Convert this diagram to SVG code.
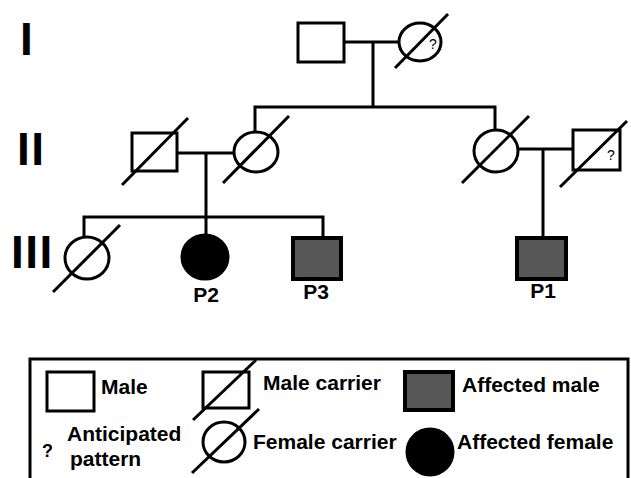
<svg xmlns="http://www.w3.org/2000/svg" width="631" height="478" viewBox="0 0 631 478">
<style>
.ln{stroke:#000;stroke-width:3;fill:none;stroke-linecap:square}
.sym{stroke:#000;stroke-width:3;fill:#fff}
.aff{stroke:#000;stroke-width:4;fill:#575757}
.fem{stroke:#000;stroke-width:3;fill:#000}
.sl{stroke:#000;stroke-width:3;fill:none}
.t{font-family:"Liberation Sans",Arial,sans-serif;font-weight:bold;font-size:21px;fill:#000}
.gen{font-family:"Liberation Sans",Arial,sans-serif;font-weight:bold;font-size:46px;fill:#000;letter-spacing:1.5px}
.q{font-family:"Liberation Sans",Arial,sans-serif;font-size:14px;fill:#000}
</style>
<rect width="631" height="478" fill="#fff"/>
<g id="generations">
<text class="gen" x="20" y="55">I</text>
<text class="gen" x="17" y="165">II</text>
<text class="gen" x="11" y="268">III</text>
</g>
<g id="connectors">
<path class="ln" d="M344 42H399M373 42V107M255 107H495M255 107V131M495 107V130"/>
<path class="ln" d="M177 153H234M206 153V235M84 217H323M84 217V237M323 217V238"/>
<path class="ln" d="M518 149H573M543 149V238"/>
</g>
<g id="I-1"><rect class="sym" x="298" y="23" width="46" height="39"/></g>
<g id="I-2"><ellipse class="sym" cx="420" cy="42" rx="21" ry="19"/><line class="sl" x1="395" y1="68" x2="448" y2="14"/><text class="q" x="433" y="49" text-anchor="middle">?</text></g>
<g id="II-1"><rect class="sym" x="132" y="133" width="45" height="38"/><line class="sl" x1="122" y1="185" x2="188" y2="118"/></g>
<g id="II-2"><ellipse class="sym" cx="256" cy="152" rx="22" ry="20"/><line class="sl" x1="223" y1="183" x2="289" y2="116"/></g>
<g id="II-3"><ellipse class="sym" cx="496" cy="151" rx="22" ry="21"/><line class="sl" x1="462" y1="183" x2="529" y2="116"/></g>
<g id="II-4"><rect class="sym" x="573" y="130" width="47" height="40"/><line class="sl" x1="560" y1="187" x2="627" y2="121"/><text class="q" x="611" y="160" text-anchor="middle">?</text></g>
<g id="III-1"><ellipse class="sym" cx="87" cy="258" rx="22" ry="21"/><line class="sl" x1="53" y1="292" x2="120" y2="225"/></g>
<g id="P2"><ellipse class="fem" cx="205" cy="257" rx="23" ry="22"/><text class="t" x="206" y="302" text-anchor="middle">P2</text></g>
<g id="P3"><rect class="aff" x="293" y="238" width="48" height="41"/><text class="t" x="316" y="299" text-anchor="middle">P3</text></g>
<g id="P1"><rect class="aff" x="517" y="238" width="49" height="41"/><text class="t" x="543" y="298" text-anchor="middle">P1</text></g>
<g id="legend">
<rect x="30" y="359" width="598" height="140" fill="none" stroke="#000" stroke-width="3"/>
<rect class="sym" x="47" y="372" width="47" height="39"/>
<text class="t" x="101" y="394">Male</text>
<rect class="sym" x="203" y="372" width="46" height="36"/>
<line class="sl" x1="193" y1="420" x2="256" y2="360"/>
<text class="t" x="263" y="390">Male carrier</text>
<rect class="aff" x="405" y="372" width="48" height="38"/>
<text class="t" x="462" y="392">Affected male</text>
<text class="t" x="42" y="457" style="font-size:18px">?</text>
<text class="t" x="67" y="441">Anticipated</text>
<text class="t" x="70" y="466">pattern</text>
<ellipse class="sym" cx="224" cy="442" rx="21" ry="20"/>
<line class="sl" x1="192" y1="473" x2="259" y2="409"/>
<text class="t" x="253" y="449">Female carrier</text>
<ellipse class="fem" cx="430" cy="452" rx="23" ry="23"/>
<text class="t" x="457" y="449">Affected female</text>
</g>
</svg>
